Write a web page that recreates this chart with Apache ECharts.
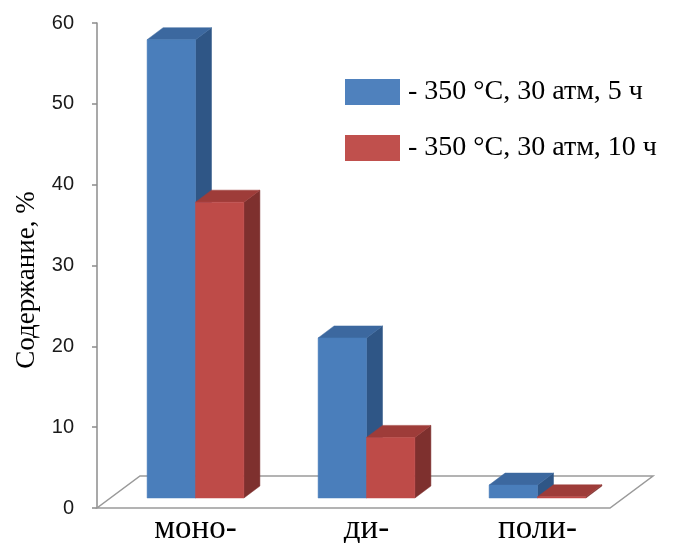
<!DOCTYPE html>
<html>
<head>
<meta charset="utf-8">
<script src="https://cdn.jsdelivr.net/npm/echarts@6/dist/echarts.min.js"></script>
<style>
  html, body { margin: 0; padding: 0; background: #fff; }
  #chart { width: 674px; height: 543px; }
</style>
</head>
<body>
<div id="chart"></div>
<script>
// Product distribution by substitution degree
const categories = ['моно-', 'ди-', 'поли-'];
const seriesNames = ['- 350 °C, 30 атм, 5 ч', '- 350 °C, 30 атм, 10 ч'];
const values5h = [56.7, 19.8, 1.6];
const values10h = [36.6, 7.5, 0.15];
const yTicks = [0, 10, 20, 30, 40, 50, 60];

// 3D look: bars stand a bit behind the floor's front edge
const FLOOR_DX = 43, FLOOR_DY = -32;   // full floor depth
const PLANE_SHIFT_X = 13, PLANE_SHIFT_Y = -10; // bar plane behind front edge
const BAR_DX = 16, BAR_DY = -12;       // bar depth
const BAR_RATIO = 0.283;               // bar width / category width

const palette = [
  { front: '#4A7EBB', top: '#3C689F', side: '#2F5686', legend: '#4F81BD' },
  { front: '#BE4B48', top: '#9E3C39', side: '#7E302E', legend: '#C0504D' }
];

function makeBarRenderer(idx) {
  const c = palette[idx];
  return function (params, api) {
    const cat = api.value(0);
    const val = api.value(1);
    const base = api.coord([cat, 0]);
    const top = api.coord([cat, val]);
    const bw = api.size([1, 0])[0] * BAR_RATIO;
    const x0 = base[0] + (idx === 0 ? -bw : 0);
    const yb = base[1] + PLANE_SHIFT_Y;
    const yt = top[1] + PLANE_SHIFT_Y;
    const x1 = x0 + bw;
    return {
      type: 'group',
      children: [
        { type: 'polygon', shape: { points: [[x1, yt], [x1 + BAR_DX, yt + BAR_DY], [x1 + BAR_DX, yb + BAR_DY], [x1, yb]] },
          style: { fill: c.side, stroke: c.side, lineWidth: 0.5 } },
        { type: 'polygon', shape: { points: [[x0, yt], [x0 + BAR_DX, yt + BAR_DY], [x1 + BAR_DX, yt + BAR_DY], [x1, yt]] },
          style: { fill: c.top, stroke: c.top, lineWidth: 0.5 } },
        { type: 'rect', shape: { x: x0, y: yt, width: bw, height: Math.max(yb - yt, 0) },
          style: { fill: c.front, stroke: c.front, lineWidth: 0.5 } }
      ]
    };
  };
}

function renderFloor(params, api) {
  const r = params.coordSys;
  const fy = r.y + r.height;
  const fl = r.x - PLANE_SHIFT_X;
  const fr = r.x + r.width - PLANE_SHIFT_X;
  return {
    type: 'polygon',
    shape: { points: [[fl, fy], [fr, fy], [fr + FLOOR_DX, fy + FLOOR_DY], [fl + FLOOR_DX, fy + FLOOR_DY]] },
    style: { fill: '#ffffff', stroke: '#9a9a9a', lineWidth: 1.5 }
  };
}

const chart = echarts.init(document.getElementById('chart'), null, { renderer: 'canvas' });

chart.setOption({
  backgroundColor: '#ffffff',
  animation: false,
  grid: { left: 110, top: 23, width: 513, bottom: 35, containLabel: false, outerBoundsMode: 'none' },
  legend: {
    orient: 'vertical',
    left: 340,
    top: 73,
    itemWidth: 55,
    itemHeight: 26,
    itemGap: 28,
    icon: 'rect',
    data: seriesNames,
    textStyle: { fontFamily: 'Liberation Serif', fontSize: 28, color: '#000', padding: [0, 0, 0, 3] }
  },
  xAxis: {
    type: 'category',
    data: categories,
    axisLine: { show: false },
    axisTick: { show: false },
    axisLabel: { fontFamily: 'Liberation Serif', fontSize: 33, color: '#000', margin: 5 }
  },
  yAxis: {
    type: 'value',
    min: yTicks[0],
    max: yTicks[yTicks.length - 1],
    interval: 10,
    offset: PLANE_SHIFT_X,
    splitLine: { show: false },
    axisLine: { show: true, lineStyle: { color: '#8c8c8c', width: 1.5 } },
    axisTick: { show: true, length: 5, lineStyle: { color: '#8c8c8c', width: 1.5 } },
    axisLabel: { fontFamily: 'Liberation Sans', fontSize: 20, color: '#1a1a1a', margin: 23 }
  },
  graphic: [{
    type: 'text',
    x: 27,
    y: 280,
    rotation: Math.PI / 2,
    style: {
      text: 'Содержание, %',
      fontFamily: 'Liberation Serif',
      fontSize: 27,
      fill: '#000',
      align: 'center',
      verticalAlign: 'middle'
    }
  }],
  series: [
    {
      type: 'custom',
      name: 'floor',
      z: 1,
      silent: true,
      renderItem: renderFloor,
      data: [[0, 0]]
    },
    {
      type: 'custom',
      name: seriesNames[0],
      z: 2,
      itemStyle: { color: palette[0].legend },
      renderItem: makeBarRenderer(0),
      data: categories.map((c, i) => [i, values5h[i]])
    },
    {
      type: 'custom',
      name: seriesNames[1],
      z: 3,
      itemStyle: { color: palette[1].legend },
      renderItem: makeBarRenderer(1),
      data: categories.map((c, i) => [i, values10h[i]])
    }
  ]
});
</script>
</body>
</html>
